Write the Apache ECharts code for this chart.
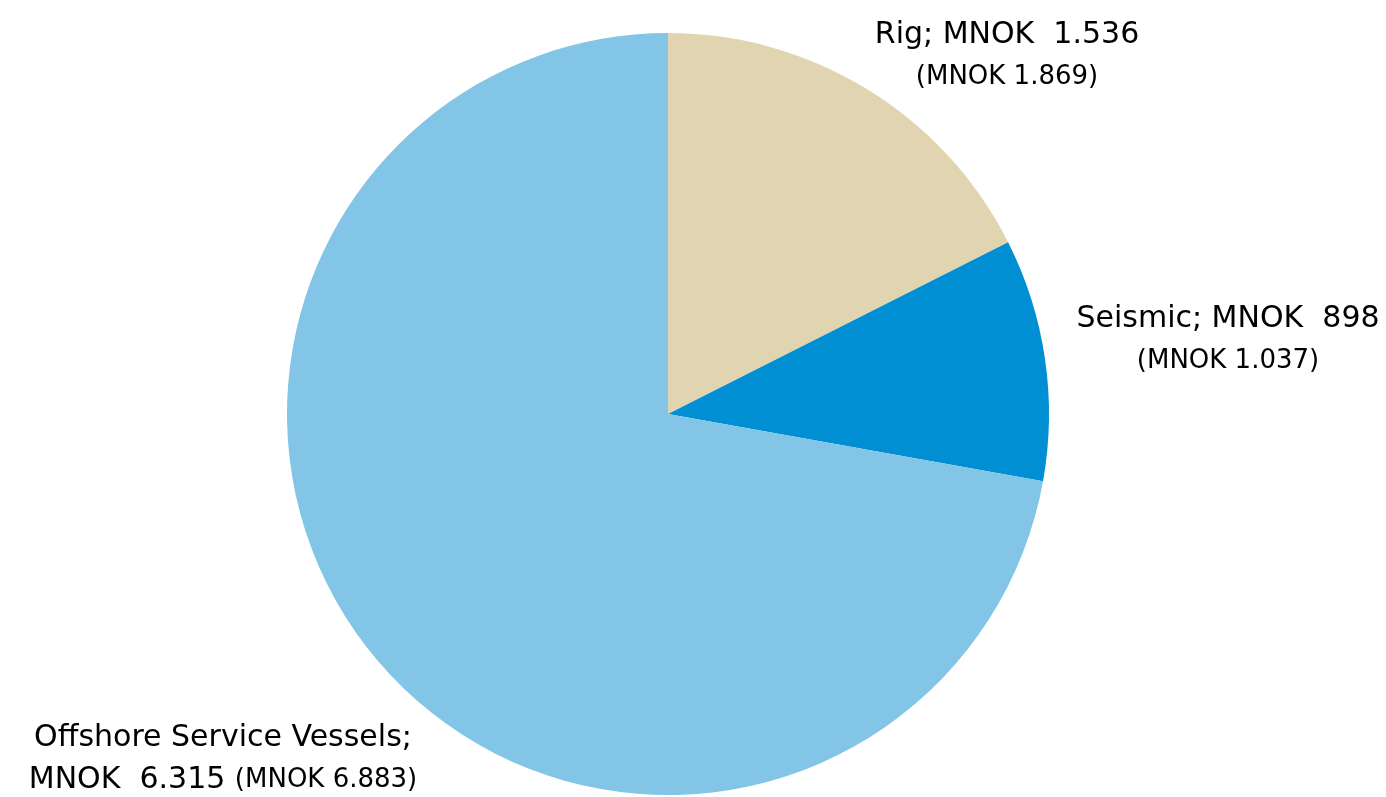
<!DOCTYPE html>
<html>
<head>
<meta charset="utf-8">
<script src="https://cdn.jsdelivr.net/npm/echarts@6/dist/echarts.min.js"></script>
<style>
html,body{margin:0;padding:0;background:#fff;}
#chart{width:1386px;height:797px;}
</style>
</head>
<body>
<div id="chart"></div>
<script>
var categories = ['Rig', 'Seismic', 'Offshore Service Vessels'];
var values = [1536, 898, 6315];
var prevValues = [1869, 1037, 6883];
var colors = ['#E0D5B0', '#008FD3', '#82C5E7'];

function fmt(v) {
  var s = String(v);
  if (s.length > 3) s = s.slice(0, s.length - 3) + '.' + s.slice(s.length - 3);
  return s;
}

var labelPos = [
  {x: 1007, y: 56},
  {x: 1228, y: 340},
  {x: 223, y: 759}
];

var chart = echarts.init(document.getElementById('chart'), null, {renderer: 'canvas'});
chart.setOption({
  animation: false,
  series: [{
    type: 'pie',
    center: [668, 414],
    radius: 381,
    startAngle: 90,
    clockwise: true,
    avoidLabelOverlap: false,
    itemStyle: {borderWidth: 0},
    emphasis: {disabled: true},
    labelLine: {show: false},
    label: {
      show: true,
      position: 'outside',
      fontFamily: 'DejaVu Sans',
      color: '#000',
      formatter: function (p) {
        var i = p.dataIndex;
        if (i === 2) {
          return '{a|' + categories[i] + ';}\n{a|MNOK  ' + fmt(values[i]) + ' }{b|(MNOK ' + fmt(prevValues[i]) + ')}';
        }
        return '{a|' + categories[i] + '; MNOK  ' + fmt(values[i]) + '}\n{b|(MNOK ' + fmt(prevValues[i]) + ')}';
      },
      rich: {
        a: {fontFamily: 'DejaVu Sans', fontSize: 30, color: '#000', lineHeight: 42},
        b: {fontFamily: 'DejaVu Sans', fontSize: 26, color: '#000', lineHeight: 42}
      }
    },
    labelLayout: function (p) {
      var lp = labelPos[p.dataIndex];
      return {x: lp.x, y: lp.y, align: 'center', verticalAlign: 'middle'};
    },
    data: categories.map(function (c, i) {
      return {name: c, value: values[i], itemStyle: {color: colors[i]}};
    })
  }]
});
</script>
</body>
</html>
